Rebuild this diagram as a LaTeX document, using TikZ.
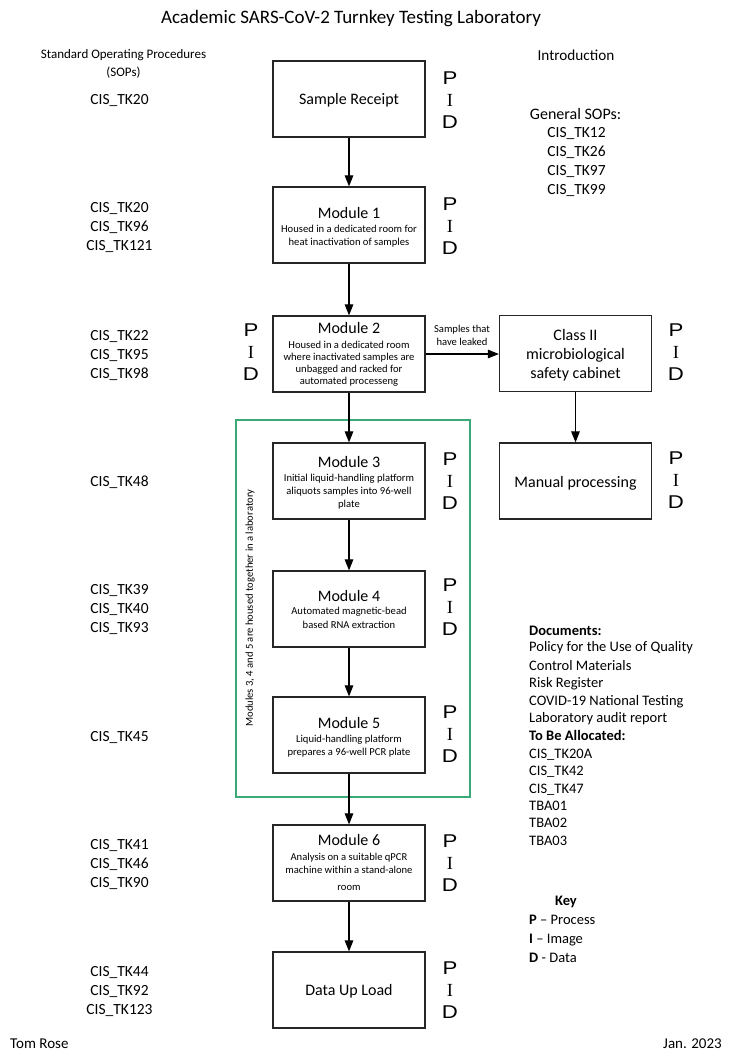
\documentclass[tikz,border=0pt]{standalone}
\usepackage{fontspec}
\setmainfont{Carlito}
\newfontfamily\pidserif{Liberation Serif}
\newfontfamily\pidsans[FakeStretch=1.2]{Liberation Sans}
\usetikzlibrary{arrows.meta}
\definecolor{boxgreen}{RGB}{60,170,120}
\newcommand\pidstack[3]{%
  \node[pidl] (#1P) at (#2,{#3-22+6.5}) {\pidsans P};
  \node[pidl] (#1I) at (#2,{#3+6.5}) {\pidserif I};
  \node[pidl] (#1D) at (#2,{#3+22+6.5}) {\pidsans D};}
\begin{document}
\begin{tikzpicture}[x=1pt,y=-1pt,
  box/.style={draw=black!85,line width=1.2pt,minimum width=152pt,minimum height=76pt,inner sep=0pt},
  flow/.style={draw=black,line width=1.1pt,-{Triangle[length=11pt,width=8.5pt]}},
  bt/.style={inner sep=0pt,anchor=base,font=\fontsize{16}{19}\selectfont},
  st/.style={inner sep=0pt,anchor=base,font=\fontsize{10.6}{13}\selectfont},
  ct/.style={inner sep=0pt,anchor=base,font=\fontsize{15.5}{19}\selectfont},
  dt/.style={inner sep=0pt,anchor=base west,font=\fontsize{14.5}{17.5}\selectfont},
  pidl/.style={inner sep=0pt,anchor=base,font=\fontsize{18.5}{22}\selectfont},
]
\useasboundingbox (0,0) rectangle (735,1061);

% laboratory frame
\node[draw=boxgreen,line width=1.1pt,minimum width=234pt,minimum height=377pt,inner sep=0pt] (lab) at (353,608.5) {};
\node[st,anchor=center,rotate=90] (labt) at (250,608) {Modules 3, 4 and 5 are housed together in a laboratory};

% boxes
\node[box] (sr) at (349,99) {};
\node[box] (m1) at (349,225) {};
\node[box] (m2) at (349,354) {};
\node[box] (m3) at (349,481) {};
\node[box] (m4) at (349,609) {};
\node[box] (m5) at (349,735) {};
\node[box] (m6) at (349,863) {};
\node[box] (du) at (349,990) {};
\node[box] (c2) at (575.5,353.5) {};
\node[box] (mp) at (575.5,481) {};

% box texts
\node[bt] (srt) at (349,104.1) {Sample Receipt};
\node[bt] (m1t) at (349,218.1) {Module 1};
\node[st] (m1a) at (349,232.4) {Housed in a dedicated room for};
\node[st] (m1b) at (349,245.4) {heat inactivation of samples};
\node[bt] (m2t) at (349,333.1) {Module 2};
\node[st] (m2a) at (349,348.4) {Housed in a dedicated room};
\node[st] (m2b) at (349,360.4) {where inactivated samples are};
\node[st] (m2c) at (349,372.4) {unbagged and racked for};
\node[st] (m2d) at (349,384.4) {automated processeng};
\node[bt] (m3t) at (349,467.1) {Module 3};
\node[st] (m3a) at (349,481.4) {Initial liquid-handling platform};
\node[st] (m3b) at (349,494.4) {aliquots samples into 96-well};
\node[st] (m3c) at (349,507.4) {plate};
\node[bt] (m4t) at (349,601.1) {Module 4};
\node[st] (m4a) at (349,614.4) {Automated magnetic-bead};
\node[st] (m4b) at (349,628.4) {based RNA extraction};
\node[bt] (m5t) at (349,728.1) {Module 5};
\node[st] (m5a) at (349,742.4) {Liquid-handling platform};
\node[st] (m5b) at (349,755.4) {prepares a 96-well PCR plate};
\node[bt] (m6t) at (349,845.1) {Module 6};
\node[st] (m6a) at (349,860.4) {Analysis on a suitable qPCR};
\node[st] (m6b) at (349,873.4) {machine within a stand-alone};
\node[st] (m6c) at (349,890.4) {room};
\node[bt] (dut) at (349,995.1) {Data Up Load};
\node[bt] (c2a) at (575.5,340.1) {Class II};
\node[bt] (c2b) at (575.5,359.1) {microbiological};
\node[bt] (c2c) at (575.5,378.1) {safety cabinet};
\node[bt] (mpt) at (575.5,487.1) {Manual processing};

% connectors
\draw[flow] (sr) -- (m1);
\draw[flow] (m1) -- (m2);
\draw[flow] (m2) -- (m3);
\draw[flow] (m3) -- (m4);
\draw[flow] (m4) -- (m5);
\draw[flow] (m5) -- (m6);
\draw[flow] (m6) -- (du);
\draw[flow] (c2) -- (mp);
\draw[flow] (m2.east) -- (m2.east -| c2.west);
\node[st] (lk1) at (462,332.4) {Samples that};
\node[st] (lk2) at (462,345.4) {have leaked};

% PID stacks
\pidstack{psr}{450}{100}
\pidstack{pm1}{450}{226}
\pidstack{pm2}{251}{352}
\pidstack{pc2}{676}{352}
\pidstack{pm3}{450}{481}
\pidstack{pmp}{676}{480}
\pidstack{pm4}{450}{607}
\pidstack{pm5}{450}{734}
\pidstack{pm6}{450}{863}
\pidstack{pdu}{450}{990}

% headers
\node[inner sep=0pt,anchor=base,font=\fontsize{19}{22}\selectfont] (title) at (351,23) {Academic SARS-CoV-2 Turnkey Testing Laboratory};
\node[inner sep=0pt,anchor=base,font=\fontsize{13}{16}\selectfont] (soph1) at (123.5,58.2) {Standard Operating Procedures};
\node[inner sep=0pt,anchor=base,font=\fontsize{13}{16}\selectfont] (soph2) at (123.5,76) {(SOPs)};
\node[inner sep=0pt,anchor=base,font=\fontsize{15.2}{18}\selectfont] (intro) at (576,60.8) {Introduction};

% SOP column
\foreach \s/\yy [count=\k] in {CIS\_TK20/99, CIS\_TK20/207, CIS\_TK96/226, CIS\_TK121/245,
  CIS\_TK22/335, CIS\_TK95/354, CIS\_TK98/373, CIS\_TK48/481,
  CIS\_TK39/589, CIS\_TK40/608, CIS\_TK93/627, CIS\_TK45/736,
  CIS\_TK41/844, CIS\_TK46/863, CIS\_TK90/882,
  CIS\_TK44/971, CIS\_TK92/990, CIS\_TK123/1009}
  \node[ct] (sop\k) at (119.5,{\yy+5}) {\s};

% general SOPs
\node[inner sep=0pt,anchor=base,font=\fontsize{16}{19}\selectfont] (gen) at (575.5,119.2) {General SOPs:};
\foreach \s/\yy [count=\k] in {CIS\_TK12/132, CIS\_TK26/151, CIS\_TK97/170, CIS\_TK99/189}
  \node[ct] (gen\k) at (576.5,{\yy+5}) {\s};

% documents
\node[dt] (doc0) at (529,635.7) {\textbf{Documents:}};
\foreach \s/\yy [count=\k] in {Policy for the Use of Quality/647, Control Materials/666, Risk Register/683,
  COVID-19 National Testing/701, Laboratory audit report/718}
  \node[dt] (doc\k) at (529,{\yy+4.7}) {\s};
\node[dt] (tba0) at (529,740.7) {\textbf{To Be Allocated:}};
\foreach \s/\yy [count=\k] in {CIS\_TK20A/754, CIS\_TK42/771, CIS\_TK47/789, TBA01/806, TBA02/823, TBA03/841}
  \node[dt] (tba\k) at (529,{\yy+4.7}) {\s};

% key
\node[inner sep=0pt,anchor=base,font=\fontsize{14.5}{17}\selectfont] (key) at (566,905.7) {\textbf{Key}};
\node[dt] (key1) at (529,924.7) {\textbf{P} -- Process};
\node[dt] (key2) at (529,943.7) {\textbf{I} -- Image};
\node[dt] (key3) at (529,962.7) {\textbf{D} - Data};

% footer
\node[inner sep=0pt,anchor=base west,font=\fontsize{15}{18}\selectfont] (auth) at (10,1048) {Tom Rose};
\node[inner sep=0pt,anchor=base east,font=\fontsize{15}{18}\selectfont] (date) at (722,1048) {Jan. 2023};
\end{tikzpicture}
\end{document}
